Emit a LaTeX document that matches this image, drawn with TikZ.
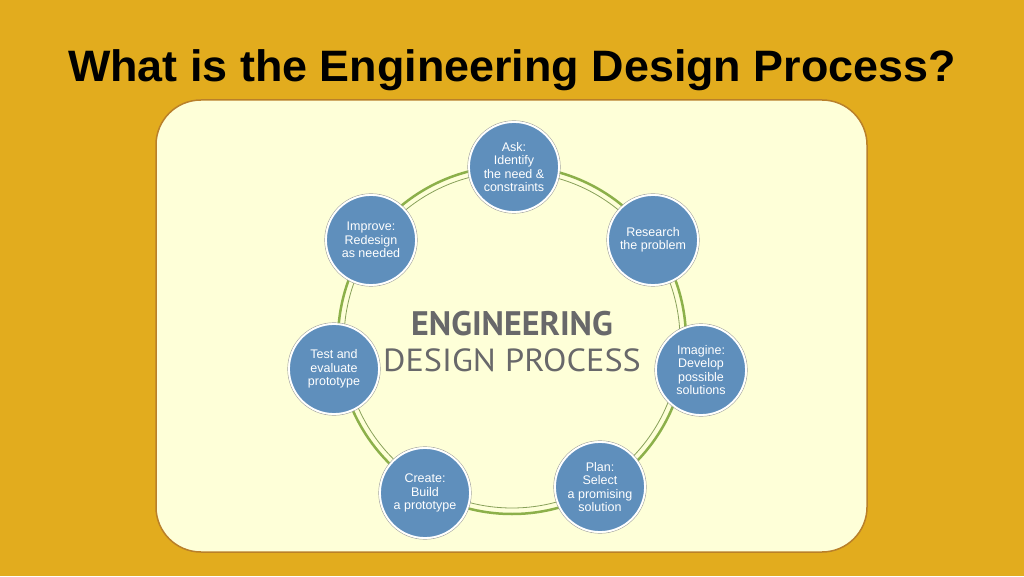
\documentclass[tikz,border=0pt]{standalone}
\usepackage{fontspec}
\setmainfont{Liberation Sans}
\newfontfamily\ptsans{PT Sans}
\definecolor{gold}{HTML}{E2AC1E}
\definecolor{panel}{HTML}{FEFFD8}
\definecolor{panelrim}{HTML}{B9802A}
\definecolor{stepblue}{HTML}{5F8FBC}
\definecolor{ringgreen}{HTML}{8CB04A}
\definecolor{greytext}{HTML}{68686A}
\tikzset{
  stepnode/.style={circle,fill=stepblue,draw=white,line width=1.8pt,minimum size=90pt,inner sep=0pt,
    align=center,text=white,font=\fontsize{12.5}{13.5}\selectfont,
    append after command={\pgfextra{\draw[gray!70,line width=0.6pt] (\tikzlastnode.center) circle (46.3pt);}}},
}
\begin{document}
\begin{tikzpicture}[x=1pt,y=1pt]
\useasboundingbox (0,0) rectangle (1024,576);
\fill[gold] (0,0) rectangle (1024,576);
\node (title) at (512,506) {\fontsize{44}{48}\selectfont\bfseries\scalebox{1.02}[1]{What is the Engineering Design Process?}};
\draw[panelrim,line width=1.5pt,fill=panel,rounded corners=45pt] (156,24) rectangle (867,476);
\coordinate (c) at (512,236);
\draw[ringgreen,line width=2.5pt] (c) circle (174pt);
\draw[ringgreen!70!gray,line width=0.8pt] (c) circle (168pt);
\node[stepnode] (ask) at (514,409) {Ask:\\Identify\\the need \&\\constraints};
\node[stepnode] (research) at (653,336) {Research\\the problem};
\node[stepnode] (imagine) at (701,206) {Imagine:\\Develop\\possible\\solutions};
\node[stepnode] (plan) at (600,89) {Plan:\\Select\\a promising\\solution};
\node[stepnode] (create) at (425,83) {Create:\\Build\\a prototype};
\node[stepnode] (test) at (334,207) {Test and\\evaluate\\prototype};
\node[stepnode] (improve) at (371,336) {Improve:\\Redesign\\as needed};
\node[text=greytext,inner sep=0pt] (eng) at (512,252) {\ptsans\bfseries\fontsize{34}{36}\selectfont ENGINEERING};
\node[text=greytext,inner sep=0pt] (edp) at (512,216) {\ptsans\fontsize{32}{34}\selectfont\scalebox{1.07}[1]{DESIGN PROCESS}};
\end{tikzpicture}
\end{document}
